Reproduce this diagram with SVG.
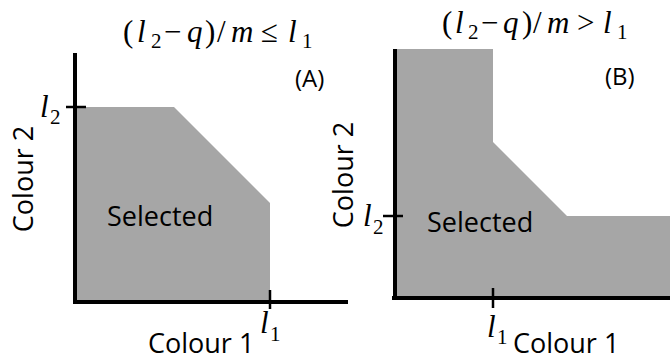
<svg xmlns="http://www.w3.org/2000/svg" width="670" height="360" viewBox="0 0 670 360">
<style>
.region{fill:#a6a6a6;stroke:none}
.axis{stroke:#000;stroke-width:4;fill:none}
.tick{stroke:#000;stroke-width:2.5;fill:none}
.lbl{font-family:"Open Sans","Liberation Sans",sans-serif;font-size:27px;fill:#000}
.tag{font-family:"Open Sans","Liberation Sans",sans-serif;font-size:24px;fill:#000}
.math{font-family:"Liberation Serif","DejaVu Serif",serif;font-size:31px;fill:#000}
.it{font-style:italic}
.sub{font-size:21px}
</style>
<rect width="670" height="360" fill="#fff"/>
<g id="panelA">
  <polygon class="region" points="77,107 174,107 270,203 270,301 77,301"/>
  <g id="axesA">
    <line class="axis" x1="75" y1="53" x2="75" y2="304"/>
    <line class="axis" x1="73" y1="302" x2="348" y2="302"/>
    <line class="tick" x1="66" y1="107" x2="86" y2="107"/>
    <line class="tick" x1="270" y1="290" x2="270" y2="309"/>
  </g>
  <text class="math" x="123" y="42"><tspan x="123">(</tspan><tspan class="it" x="137">l</tspan><tspan class="sub" x="151" y="48">2</tspan><tspan x="164" y="42">−</tspan><tspan class="it" x="187">q</tspan><tspan x="205">)</tspan><tspan x="217">/</tspan><tspan class="it" x="231">m</tspan><tspan x="261">≤</tspan><tspan class="it" x="288">l</tspan><tspan class="sub" x="302" y="48">1</tspan></text>
  <text class="tag" x="295" y="87">(A)</text>
  <text class="math" x="40" y="117"><tspan class="it">l</tspan><tspan class="sub" x="50" y="124">2</tspan></text>
  <text class="math" x="260" y="333"><tspan class="it">l</tspan><tspan class="sub" x="270" y="341">1</tspan></text>
  <text class="lbl" x="107" y="226">Selected</text>
  <text class="lbl" x="148" y="353">Colour 1</text>
  <text class="lbl" text-anchor="middle" transform="translate(33,179) rotate(-90)">Colour 2</text>
</g>
<g id="panelB">
  <polygon class="region" points="396,49 493,49 493,142 567,216 670,216 670,296 396,296"/>
  <g id="axesB">
    <line class="axis" x1="395" y1="49" x2="395" y2="300"/>
    <line class="axis" x1="392" y1="298" x2="670" y2="298"/>
    <line class="tick" x1="383" y1="216" x2="403" y2="216"/>
    <line class="tick" x1="493" y1="288" x2="493" y2="308"/>
  </g>
  <text class="math" x="442" y="33"><tspan x="442">(</tspan><tspan class="it" x="455">l</tspan><tspan class="sub" x="468" y="39">2</tspan><tspan x="481" y="33">−</tspan><tspan class="it" x="503">q</tspan><tspan x="522">)</tspan><tspan x="533">/</tspan><tspan class="it" x="547">m</tspan><tspan x="577">&gt;</tspan><tspan class="it" x="603">l</tspan><tspan class="sub" x="617" y="39">1</tspan></text>
  <text class="tag" x="605" y="85">(B)</text>
  <text class="math" x="363" y="226"><tspan class="it">l</tspan><tspan class="sub" x="373" y="234">2</tspan></text>
  <text class="math" x="487" y="337"><tspan class="it">l</tspan><tspan class="sub" x="497" y="344">1</tspan></text>
  <text class="lbl" x="427" y="232">Selected</text>
  <text class="lbl" x="513" y="353">Colour 1</text>
  <text class="lbl" text-anchor="middle" transform="translate(353,175) rotate(-90)">Colour 2</text>
</g>
</svg>
